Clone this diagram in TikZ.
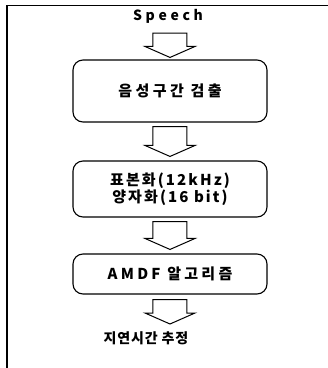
\documentclass[tikz,border=0pt]{standalone}
\usepackage{fontspec}
\setmainfont{Noto Sans CJK KR}
\usetikzlibrary{calc}
\tikzset{
  frameline/.style={line width=1.1pt},
  stagebox/.style={draw, line width=1.1pt, rounded corners=10pt, minimum width=194pt, align=center, inner sep=0pt},
  blockline/.style={draw, line width=1pt, line join=miter, fill=white},
  lbl/.style={inner sep=0pt, align=center},
}
\newcommand\lspc[1]{\addfontfeatures{LetterSpace=#1}}
\newcommand\blockarrow[4]{%
  \path[blockline] let \p1=($(#1)+(0,#3)$), \p2=($(#2)+(0,#4)$) in
    (\x2-17pt,\y1) -- (\x2-17pt,\y2+11pt) -- (\x2-25pt,\y2+11pt) -- (\x2,\y2)
    -- (\x2+25pt,\y2+11pt) -- (\x2+17pt,\y2+11pt) -- (\x2+17pt,\y1) -- cycle;}
\begin{document}
\begin{tikzpicture}[x=1pt,y=-1pt]
\useasboundingbox (0,0) rectangle (328,368);
\coordinate (fbl) at (7,368);
\coordinate (ftl) at (7,5.5);
\coordinate (ftr) at (328,5.5);
\draw[frameline] (fbl) -- (ftl) -- (ftr);

\node[lbl, font=\bfseries\fontsize{14}{17}\selectfont\lspc{26}] (speech) at (168,16) {Speech};
\node[stagebox, minimum height=62pt, font=\bfseries\fontsize{15}{17}\selectfont\lspc{23}] (b1) at (170,91) {음성구간 검출};
\node[stagebox, minimum height=56pt, font=\bfseries\fontsize{15}{17}\selectfont\lspc{14}] (b2) at (170,189) {표본화(12kHz)\\양자화(16 bit)};
\node[stagebox, minimum height=40pt, font=\bfseries\fontsize{15}{17}\selectfont\lspc{22}] (b3) at (170,274) {AMDF 알고리즘};
\node[lbl, font=\bfseries\fontsize{14}{17}\selectfont\lspc{6}] (out) at (146,338) {지연시간 추정};
\coordinate (outtip) at (170,324);

\blockarrow{speech.south}{b1.north}{10}{-2}
\blockarrow{b1.south}{b2.north}{4}{-4}
\blockarrow{b2.south}{b3.north}{4}{-4}
\blockarrow{b3.south}{outtip}{5}{0}
\end{tikzpicture}
\end{document}
